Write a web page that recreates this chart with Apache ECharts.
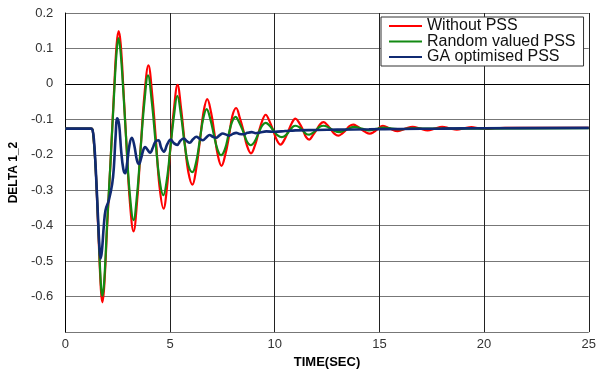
<!DOCTYPE html>
<html>
<head>
<meta charset="utf-8">
<script src="https://cdn.jsdelivr.net/npm/echarts@6/dist/echarts.min.js"></script>
<style>
html,body{margin:0;padding:0;background:#fff;}
#chart{width:599px;height:374px;}
</style>
</head>
<body>
<div id="chart"></div>
<script>
// ---- data ----
var seriesNames = ['Without PSS', 'Random valued PSS', 'GA optimised PSS'];
var xTicks = [0, 5, 10, 15, 20, 25];
var yTicks = [-0.6, -0.5, -0.4, -0.3, -0.2, -0.1, 0, 0.1, 0.2];

var timeRed = [0,1.25,1.32,1.45,1.58,1.70,1.77,1.86,2.0,2.16,2.32,2.45,2.55,2.65,2.78,2.92,3.08,3.26,3.43,3.6,3.78,3.97,4.15,4.33,4.5,4.69,4.86,5.02,5.19,5.36,5.53,5.71,5.88,6.07,6.25,6.43,6.6,6.78,6.96,7.11,7.28,7.46,7.64,7.81,7.98,8.16,8.33,8.5,8.68,8.87,9.05,9.22,9.4,9.57,9.75,9.92,10.1,10.28,10.46,10.64,10.82,10.99,11.17,11.35,11.5,11.65,11.82,12.0,12.17,12.33,12.5,12.68,12.86,13.04,13.22,13.4,13.57,13.75,13.95,14.14,14.34,14.54,14.72,14.9,15.17,15.5,15.88,16.25,16.59,16.95,17.3,17.65,18.0,18.35,18.7,19.05,19.4,19.75,20.1,20.5,21.0,25];
var deltaRed = [-0.126,-0.126,-0.135,-0.24,-0.42,-0.58,-0.616,-0.57,-0.40,-0.22,-0.03,0.11,0.149,0.11,-0.02,-0.17,-0.33,-0.416,-0.33,-0.18,-0.03,0.052,-0.03,-0.16,-0.29,-0.352,-0.29,-0.18,-0.07,-0.003,-0.07,-0.17,-0.25,-0.284,-0.24,-0.16,-0.08,-0.043,-0.08,-0.135,-0.2,-0.231,-0.2,-0.15,-0.09,-0.068,-0.095,-0.13,-0.175,-0.196,-0.175,-0.14,-0.105,-0.087,-0.105,-0.13,-0.158,-0.171,-0.158,-0.135,-0.11,-0.098,-0.11,-0.13,-0.15,-0.157,-0.145,-0.13,-0.114,-0.108,-0.115,-0.128,-0.141,-0.146,-0.14,-0.13,-0.119,-0.115,-0.12,-0.128,-0.136,-0.14,-0.136,-0.128,-0.118,-0.126,-0.133,-0.126,-0.121,-0.126,-0.131,-0.126,-0.121,-0.125,-0.129,-0.125,-0.122,-0.125,-0.127,-0.125,-0.124,-0.124];

var timeGreen = [0,1.25,1.32,1.45,1.58,1.70,1.77,1.86,2.0,2.16,2.32,2.45,2.54,2.64,2.78,2.92,3.08,3.26,3.43,3.6,3.78,3.95,4.13,4.32,4.5,4.68,4.85,5.02,5.19,5.35,5.53,5.7,5.88,6.07,6.25,6.42,6.58,6.75,6.93,7.1,7.27,7.44,7.62,7.79,7.96,8.13,8.3,8.5,8.68,8.86,9.04,9.22,9.4,9.57,9.76,9.96,10.16,10.34,10.52,10.7,10.86,11.0,11.17,11.35,11.5,11.65,11.82,12.0,12.17,12.33,12.55,12.8,13.1,13.45,13.8,14.15,14.5,14.85,15.2,15.6,16.0,16.5,17.2,25];
var deltaGreen = [-0.126,-0.126,-0.135,-0.24,-0.41,-0.565,-0.598,-0.555,-0.39,-0.22,-0.04,0.09,0.129,0.09,-0.03,-0.17,-0.31,-0.384,-0.31,-0.18,-0.05,0.024,-0.05,-0.17,-0.27,-0.314,-0.27,-0.18,-0.09,-0.034,-0.09,-0.17,-0.23,-0.249,-0.22,-0.16,-0.1,-0.071,-0.1,-0.145,-0.185,-0.201,-0.185,-0.145,-0.108,-0.093,-0.108,-0.135,-0.163,-0.173,-0.163,-0.14,-0.118,-0.110,-0.118,-0.133,-0.146,-0.150,-0.145,-0.133,-0.121,-0.118,-0.122,-0.132,-0.141,-0.143,-0.138,-0.129,-0.12,-0.118,-0.122,-0.131,-0.136,-0.128,-0.121,-0.126,-0.131,-0.127,-0.123,-0.126,-0.128,-0.125,-0.126,-0.125];

var timeBlue = [0,1.22,1.3,1.37,1.45,1.56,1.64,1.69,1.75,1.84,1.92,2.08,2.24,2.32,2.4,2.48,2.57,2.67,2.77,2.86,2.96,3.07,3.18,3.3,3.42,3.52,3.62,3.72,3.81,3.93,4.05,4.18,4.3,4.45,4.58,4.71,4.87,5.03,5.18,5.34,5.5,5.66,5.8,5.94,6.1,6.26,6.42,6.57,6.73,6.89,7.05,7.2,7.36,7.52,7.68,7.83,8.0,8.16,8.32,8.5,8.7,8.9,9.1,9.3,9.6,10.0,10.5,11.0,12.0,13.0,14.5,16,18,20,25];
var deltaBlue = [-0.126,-0.126,-0.13,-0.16,-0.235,-0.374,-0.47,-0.492,-0.47,-0.40,-0.356,-0.328,-0.282,-0.235,-0.15,-0.097,-0.115,-0.19,-0.24,-0.252,-0.22,-0.17,-0.152,-0.175,-0.215,-0.226,-0.21,-0.187,-0.178,-0.186,-0.194,-0.18,-0.163,-0.159,-0.18,-0.191,-0.17,-0.157,-0.167,-0.172,-0.16,-0.154,-0.161,-0.166,-0.156,-0.149,-0.155,-0.159,-0.151,-0.144,-0.149,-0.152,-0.145,-0.140,-0.143,-0.146,-0.141,-0.138,-0.141,-0.142,-0.138,-0.136,-0.139,-0.137,-0.134,-0.135,-0.133,-0.131,-0.130,-0.129,-0.128,-0.127,-0.126,-0.125,-0.124];

function zip(t, v) { return t.map(function (x, i) { return [x, v[i]]; }); }

var chart = echarts.init(document.getElementById('chart'), null, {renderer: 'canvas'});
var font = 'Liberation Sans, Arial, sans-serif';
var option = {
  animation: false,
  backgroundColor: '#ffffff',
  grid: {left: 61, right: 9.5, top: 13, bottom: 36, containLabel: false},
  legend: {
    data: seriesNames,
    orient: 'vertical',
    left: 381, top: 17,
    padding: [1, 8, 1, 7],
    itemWidth: 33, itemHeight: 12, itemGap: -0.5, itemTextGap: 5,
    itemStyle: {opacity: 0},
    backgroundColor: '#ffffff',
    borderColor: '#333333', borderWidth: 1,
    textStyle: {fontFamily: font, fontSize: 16, lineHeight: 12, color: '#111'}
  },
  xAxis: {
    type: 'value', min: xTicks[0], max: xTicks[xTicks.length - 1], interval: 5,
    name: 'TIME(SEC)', nameLocation: 'middle', nameGap: 17,
    nameTextStyle: {fontFamily: font, fontSize: 13, fontWeight: 'bold', color: '#000'},
    axisLine: {show: true, lineStyle: {color: '#000', width: 1}},
    axisTick: {show: false},
    axisLabel: {fontFamily: font, fontSize: 13, color: '#333', margin: 6},
    splitLine: {show: true, lineStyle: {color: '#222', width: 1}}
  },
  yAxis: {
    type: 'value', min: -0.7, max: 0.2, interval: 0.1,
    name: 'DELTA 1_2', nameLocation: 'middle', nameGap: 44,
    nameTextStyle: {fontFamily: font, fontSize: 12, fontWeight: 'bold', color: '#000'},
    axisLine: {show: true, lineStyle: {color: '#000', width: 1}},
    axisTick: {show: false},
    axisLabel: {
      fontFamily: font, fontSize: 13, color: '#333', margin: 12,
      formatter: function (v) {
        var r = Math.round(v * 10) / 10;
        for (var i = 0; i < yTicks.length; i++) { if (Math.abs(yTicks[i] - r) < 1e-6) return String(yTicks[i]); }
        return '';
      }
    },
    splitLine: {show: true, lineStyle: {color: '#777', width: 1.2}}
  },
  series: [
    {name: seriesNames[0], type: 'line', data: zip(timeRed, deltaRed), smooth: 0.4, symbol: 'none',
     lineStyle: {color: '#ff0000', width: 2.2}, itemStyle: {color: '#ff0000'}, z: 2},
    {name: seriesNames[1], type: 'line', data: zip(timeGreen, deltaGreen), smooth: 0.4, symbol: 'none',
     lineStyle: {color: '#138a13', width: 2.2}, itemStyle: {color: '#138a13'}, z: 3},
    {name: seriesNames[2], type: 'line', data: zip(timeBlue, deltaBlue), smooth: 0.4, symbol: 'none',
     lineStyle: {color: '#102a72', width: 2.6}, itemStyle: {color: '#102a72'}, z: 4}
  ]
};
chart.setOption(option);
</script>
</body>
</html>
